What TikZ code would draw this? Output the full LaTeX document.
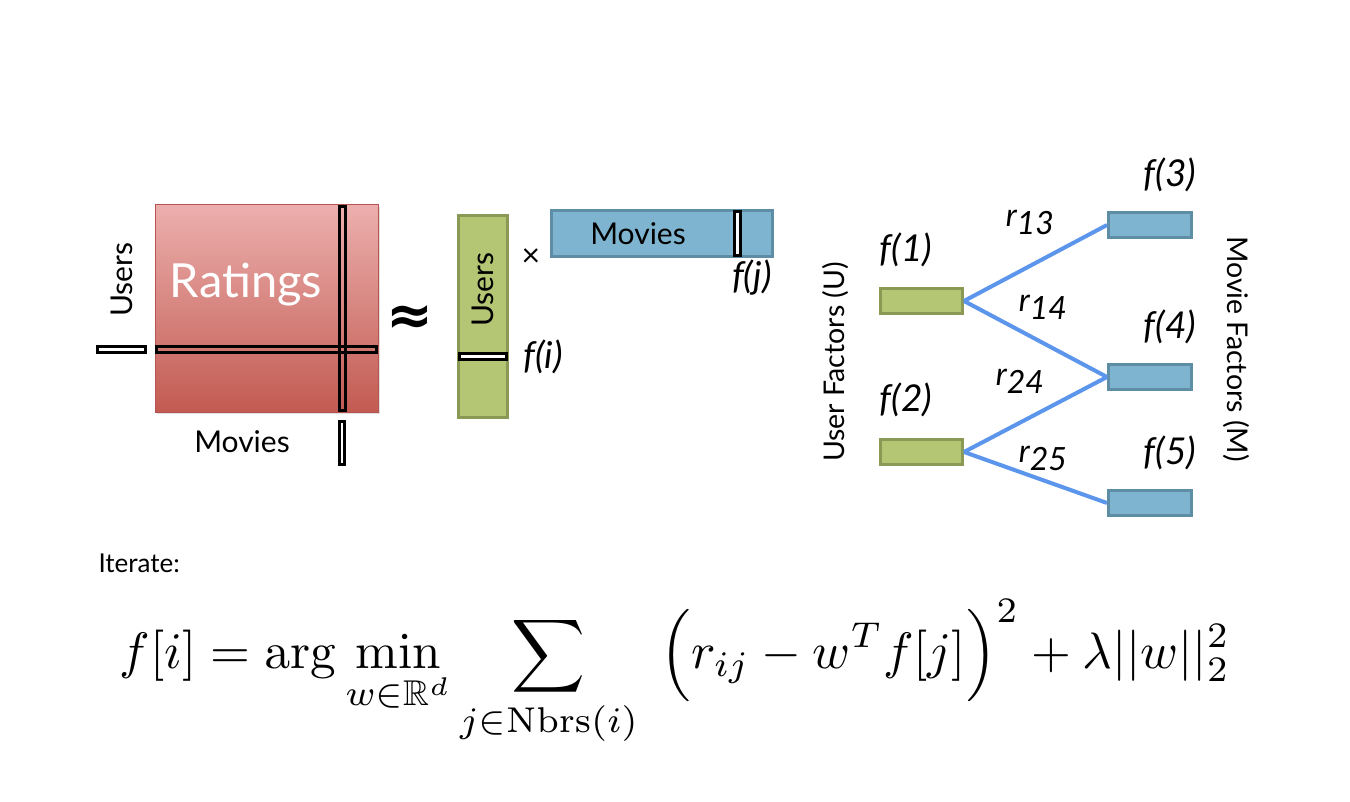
\documentclass[tikz,border=0pt]{standalone}
\usepackage{amsmath, amssymb}
\usepackage{graphicx}
\usepackage[no-math]{fontspec}
\usepackage{tikz}
\usetikzlibrary{positioning, shadows}
\newfontfamily\gill{Lato}
\newfontfamily\symb{DejaVu Sans}
\definecolor{RateTop}{RGB}{236,175,173}
\definecolor{RateBot}{RGB}{194,91,82}
\definecolor{RateLine}{RGB}{184,84,80}
\definecolor{UserFill}{RGB}{180,197,116}
\definecolor{UserLine}{RGB}{138,154,84}
\definecolor{MovFill}{RGB}{126,180,207}
\definecolor{MovLine}{RGB}{94,141,166}
\definecolor{EdgeBlue}{RGB}{91,149,236}

\begin{document}
\begin{tikzpicture}[x=1pt, y=-1pt,
    every node/.style={font=\gill},
    ratings/.style={rectangle, draw=RateLine, line width=1pt, top color=RateTop, bottom color=RateBot,
        minimum width=223pt, minimum height=207pt, inner sep=0pt,
        drop shadow={opacity=0.25, shadow xshift=2pt, shadow yshift=-2pt}},
    slot/.style={rectangle, draw=black, line width=3pt, inner sep=0pt},
    ufac/.style={rectangle, draw=UserLine, line width=3pt, fill=UserFill, inner sep=0pt},
    mfac/.style={rectangle, draw=MovLine, line width=3pt, fill=MovFill, inner sep=0pt},
    edge/.style={draw=EdgeBlue, line width=4pt},
    lbl/.style={font=\gill\fontsize{30}{36}\selectfont},
    fname/.style={font=\gill\itshape\fontsize{37}{44}\selectfont},
    rname/.style={font=\gill\itshape\fontsize{32}{38}\selectfont},
    side/.style={font=\gill\fontsize{28.5}{34}\selectfont}
]
\useasboundingbox (0,0) rectangle (1350,802);

% Ratings matrix
\node[ratings] (R) at (266.5, 308.5) {};
\node[font=\gill\fontsize{47}{56}\selectfont, text=white] (Rtxt) at (246, 285) {Ratings};
\node[slot, minimum width=220pt, minimum height=6pt] (Rrow) at (266.5, 349.5) {};
\node[slot, minimum width=6pt, minimum height=204pt] (Rcol) at (342.5, 308.5) {};
\node[slot, fill=white, minimum width=48pt, minimum height=6pt] (urow) at (121.5, 349.5) {};
\node[slot, fill=white, minimum width=5pt, minimum height=43pt] (mcol) at (342, 443) {};
\node[lbl, rotate=90] (Rusers) at (122, 280) {Users};
\node[lbl] (Rmovies) at (242, 442) {Movies};

% approx
\node[font=\symb\bfseries\fontsize{56}{60}\selectfont] (approx) at (410, 320) {≈};

% Factor matrices
\node[ufac, minimum width=49pt, minimum height=202pt] (U) at (483, 316.5) {};
\node[lbl, rotate=90] (Uusers) at (483, 290) {Users};
\node[slot, fill=white, minimum width=47pt, minimum height=6pt] (Urow) at (483, 356.5) {};
\node[fname] (fi) at (543, 357) {f(i)};
\node[font=\gill\fontsize{32}{36}\selectfont] (times) at (531, 258) {×};
\node[mfac, minimum width=221pt, minimum height=46pt] (M) at (662, 233.5) {};
\node[lbl] (Mmovies) at (638, 234) {Movies};
\node[slot, fill=white, minimum width=6pt, minimum height=44pt] (Mcol) at (737.5, 233.5) {};
\node[fname] (fj) at (752, 278) {f(j)};

% Bipartite graph
\node[ufac, minimum width=82pt, minimum height=25pt] (f1) at (921.5, 301) {};
\node[ufac, minimum width=82pt, minimum height=25pt] (f2) at (921.5, 452) {};
\node[mfac, minimum width=83pt, minimum height=25pt] (f3) at (1150, 225) {};
\node[mfac, minimum width=83pt, minimum height=25pt] (f4) at (1150, 377) {};
\node[mfac, minimum width=83pt, minimum height=25pt] (f5) at (1150, 503) {};

\draw[edge] (f1.east) -- (f3.west);
\draw[edge] (f1.east) -- (f4.west);
\draw[edge] (f2.east) -- (f4.west);
\draw[edge] (f2.east) -- (f5.west);

\node[fname] (l1) at (906, 250) {f(1)};
\node[fname] (l2) at (906, 400) {f(2)};
\node[fname] (l3) at (1170, 175) {f(3)};
\node[fname] (l4) at (1170, 327) {f(4)};
\node[fname] (l5) at (1170, 453) {f(5)};

\node[rname] (r13) at (1030, 222) {r\raisebox{-8pt}{13}};
\node[rname] (r14) at (1043, 307) {r\raisebox{-8pt}{14}};
\node[rname] (r24) at (1020, 381) {r\raisebox{-8pt}{24}};
\node[rname] (r25) at (1043, 458) {r\raisebox{-8pt}{25}};

\node[side, rotate=90] (ufactors) at (836, 362) {User Factors (U)};
\node[side, rotate=-90] (mfactors) at (1236, 349) {Movie Factors (M)};

% Update rule
\node[anchor=west, font=\gill\fontsize{26}{30}\selectfont] (iter) at (95, 563) {Iterate:};
\node (rule) at (675, 673) {\resizebox{1110pt}{!}{$\displaystyle
  f[i] = \arg\min_{w\in\mathbb{R}^d} \sum_{j\in\mathrm{Nbrs}(i)} \;\Big(r_{ij} - w^T f[j]\Big)^2 + \lambda||w||_2^2$}};

\end{tikzpicture}
\end{document}
